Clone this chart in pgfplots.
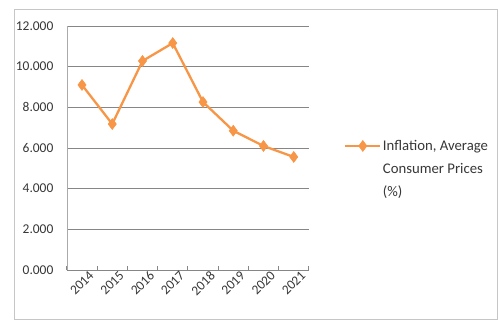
\documentclass[border=0pt]{standalone}
\usepackage{fontspec}
\setmainfont{Carlito}
\usepackage{pgfplots}
\pgfplotsset{compat=1.18}
\definecolor{xlorange}{RGB}{247,150,70}
\definecolor{gridgray}{RGB}{134,134,134}
\definecolor{txtgray}{RGB}{55,55,55}
\begin{document}
\begin{tikzpicture}[x=1bp,y=1bp]
% canvas and chart frame
\path[use as bounding box] (-82,-52) rectangle (416,270);
\draw[gray!45, line width=0.8bp] (-68,-49) rectangle (415,261);
\begin{axis}[
  at={(0,0)}, anchor=origin,
  scale only axis,
  width=242bp, height=244bp,
  xmin=-0.5, xmax=7.5,
  ymin=0, ymax=12,
  xtick={0,...,7},
  xticklabels={2014,2015,2016,2017,2018,2019,2020,2021},
  minor xtick={-0.5,0.5,...,7.5},
  ytick={0,2,...,12},
  axis x line*=bottom,
  axis y line*=left,
  x axis line style={gridgray, line width=0.8bp, -},
  y axis line style={gridgray!70, line width=0.6bp, -},
  ymajorgrids,
  major grid style={gridgray, line width=0.8bp},
  major x tick style={draw=none},
  minor x tick style={gridgray, line width=0.8bp},
  minor tick length=4bp,
  ytick style={draw=none},
  tick label style={font=\fontsize{13.5}{16}\selectfont, text=txtgray},
  /pgf/number format/fixed,
  /pgf/number format/fixed zerofill,
  /pgf/number format/precision=3,
  /pgf/number format/1000 sep={},
  /pgf/number format/assume math mode=true,
  yticklabel style={xshift=-10bp},
  xticklabel style={rotate=45, anchor=north east, inner sep=0.5bp, xshift=5bp, yshift=-4bp},
  legend style={draw=none, fill=none, at={(1.145,0.414)}, anchor=west,
    font=\fontsize{14.8}{23}\selectfont, text=txtgray,
    inner sep=0pt, column sep=1bp,
    nodes={align=left, inner sep=0.5bp}},
  legend cell align=left,
  legend image code/.code={
    \path[draw=none, fill=none] (0bp,-23bp) -- (0bp,23bp);
    \draw[mark repeat=2, mark phase=2, #1]
      plot coordinates {(0bp,23bp) (17.5bp,23bp) (35bp,23bp)};
  },
  clip=false,
]
\addplot[xlorange, line width=2.3bp, mark=diamond*, mark size=5.5bp,
  mark options={fill=xlorange, draw=xlorange, line width=0.5bp}]
  coordinates {(0,9.10) (1,7.18) (2,10.28) (3,11.16) (4,8.26) (5,6.85) (6,6.10) (7,5.56)};
\addlegendentry{Inflation, Average\\Consumer Prices\\(\%)}
\end{axis}
\end{tikzpicture}
\end{document}
